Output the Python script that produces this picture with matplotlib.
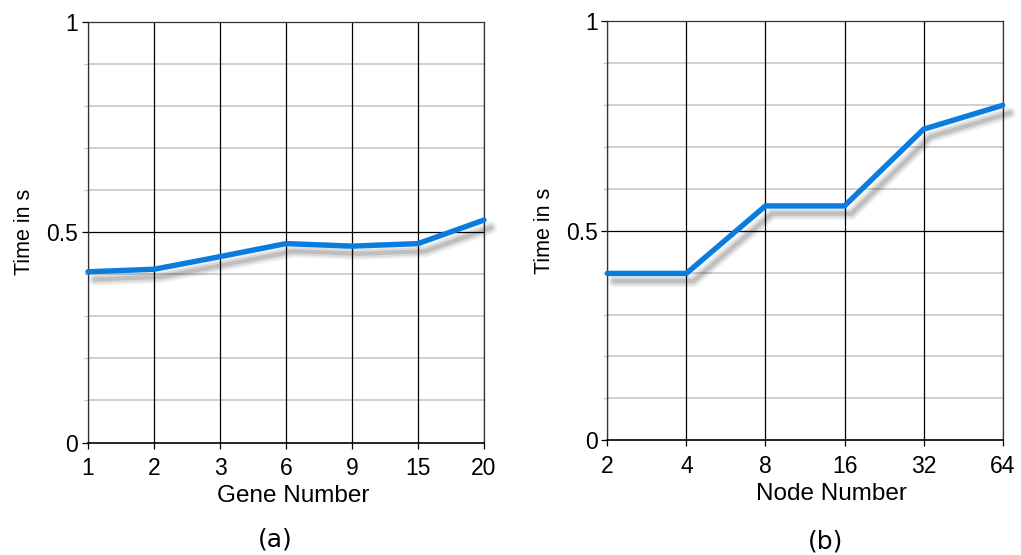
import matplotlib
matplotlib.use("Agg")
import matplotlib.pyplot as plt
import matplotlib.patheffects as pe
import numpy as np

gene_labels = ["1", "2", "3", "6", "9", "15", "20"]
gene_times = [0.406, 0.412, 0.442, 0.473, 0.467, 0.473, 0.529]

node_labels = ["2", "4", "8", "16", "32", "64"]
node_times = [0.398, 0.398, 0.559, 0.559, 0.742, 0.799]

plt.rcParams['font.family'] = ['Liberation Sans', 'DejaVu Sans']

fig = plt.figure(figsize=(10.21, 5.55), dpi=100)
fig.patch.set_facecolor('white')

LINE_COLOR = '#0a7ce0'

shadow = [
    pe.SimpleLineShadow(offset=(5, -5.5), shadow_color='#000000', alpha=0.06, linewidth=9),
    pe.SimpleLineShadow(offset=(5, -5.5), shadow_color='#000000', alpha=0.09, linewidth=6),
    pe.SimpleLineShadow(offset=(5, -5.5), shadow_color='#000000', alpha=0.12, linewidth=3),
    pe.Normal(),
]


def make_panel(rect, labels, values, xlabel, xlabel_x, caption, caption_xy):
    ax = fig.add_axes(rect)
    x = np.arange(len(labels))
    ax.set_xlim(0, len(labels) - 1)
    ax.set_ylim(0, 1)
    for yv in np.arange(0.1, 1.0, 0.1):
        if abs(yv - 0.5) < 1e-6:
            continue
        ax.axhline(yv, color='#c8c8c8', lw=1.2, zorder=1)
    ax.axhline(0.5, color='black', lw=0.9, zorder=1.5)
    for xv in x:
        ax.axvline(xv, color='black', lw=0.9, zorder=1.5)
    ax.plot(x, values, color=LINE_COLOR, lw=3.9, solid_capstyle='round',
            solid_joinstyle='miter', zorder=3, path_effects=shadow, clip_on=False)
    ax.set_xticks(x)
    ax.set_xticklabels(labels)
    ax.set_yticks([0, 0.5, 1])
    ax.set_yticklabels(["0", "0.5", "1"])
    ax.set_yticks(np.arange(0.1, 1.0, 0.1), minor=True)
    ax.tick_params(axis='y', which='minor', length=3, color='#c8c8c8', width=1)
    ax.tick_params(axis='both', which='major', length=4, width=0.9, color='black',
                   labelsize=16.5)
    ax.tick_params(axis='x', which='major', pad=6.5)
    ax.tick_params(axis='y', which='major', pad=3)
    for s in ax.spines.values():
        s.set_color('#333333')
        s.set_linewidth(0.9)
    ax.spines['bottom'].set_color('black')
    ax.spines['bottom'].set_linewidth(1.2)
    ax.set_xlabel(xlabel, fontsize=17.5)
    ax.xaxis.set_label_coords(xlabel_x, -0.128)
    ax.xaxis.label.set_verticalalignment('center')
    ax.set_ylabel("Time in s", fontsize=15.5, labelpad=8)
    fig.text(caption_xy[0], caption_xy[1], caption, fontsize=18,
             family=['DejaVu Sans'], ha='center', va='center')
    return ax


make_panel([88 / 1021, 1 - 442.5 / 555, (484 - 88) / 1021, (442.5 - 22) / 555],
           gene_labels, gene_times, "Gene Number", 0.518, "(a)", (275 / 1021, 1 - 540 / 555))
make_panel([607.3 / 1021, 1 - 440.3 / 555, (1002.7 - 607.3) / 1021, (440.3 - 21) / 555],
           node_labels, node_times, "Node Number", 0.568, "(b)", (826 / 1021, 1 - 542 / 555))

fig.savefig("out.png", dpi=100, facecolor='white')
